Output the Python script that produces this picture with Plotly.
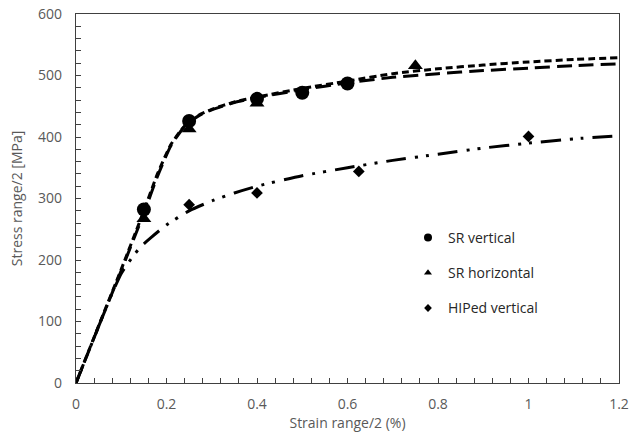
import plotly.graph_objects as go

# ---- measured data points ----
strain_sr_v = [0.15, 0.25, 0.40, 0.50, 0.60]
stress_sr_v = [282, 426, 462, 472, 487]
strain_sr_h = [0.15, 0.25, 0.40, 0.75]
stress_sr_h = [267, 413, 455, 516]
strain_hip = [0.25, 0.40, 0.625, 1.00]
stress_hip = [290, 309, 344, 401]

# ---- fitted curves ----
fit_sr_x = [0, 0.05, 0.10, 0.15, 0.18, 0.21, 0.24, 0.27, 0.30, 0.35, 0.40, 0.50,
            0.60, 0.70, 0.80, 0.90, 1.00, 1.10, 1.20]
fit_sr_short_y = [0, 93, 185, 280, 340, 388, 418, 435, 445, 457, 465, 479,
                  491, 503, 511, 517, 522, 526, 529]
fit_sr_long_y = [0, 92, 183, 276, 336, 386, 417, 434, 444, 456, 464, 477,
                 488, 497, 503, 508, 512, 516, 519]
fit_hip_x = [0, 0.05, 0.08, 0.10, 0.116, 0.13, 0.145, 0.165, 0.20, 0.25, 0.30, 0.35,
             0.40, 0.50, 0.60, 0.70, 0.80, 0.90, 1.00, 1.10, 1.20]
fit_hip_y = [0, 92, 146, 178, 196, 210, 223, 236, 257, 280, 296, 309,
             320, 337, 350, 362, 372, 382, 390, 397, 402]

legend_names = ["SR vertical", "SR horizontal", "HIPed vertical"]

FONT = "Open Sans"
TXT = "#595959"
BLK = "#000000"
L, R, T, B = 76, 12, 14, 51
W, H = 631, 434

fig = go.Figure()

fig.add_trace(go.Scatter(x=fit_sr_x, y=fit_sr_short_y, mode="lines",
                         line=dict(color=BLK, width=3, dash="7px,4px", shape="spline", smoothing=0.6),
                         showlegend=False, hoverinfo="skip"))
fig.add_trace(go.Scatter(x=fit_sr_x, y=fit_sr_long_y, mode="lines",
                         line=dict(color=BLK, width=3, dash="15px,7px", shape="spline", smoothing=0.6),
                         showlegend=False, hoverinfo="skip"))
fig.add_trace(go.Scatter(x=fit_hip_x, y=fit_hip_y, mode="lines",
                         line=dict(color=BLK, width=3, dash="20px,9px,3px,8px,3px,9px",
                                   shape="spline", smoothing=0.6),
                         showlegend=False, hoverinfo="skip"))

fig.add_trace(go.Scatter(x=strain_sr_v, y=stress_sr_v, mode="markers",
                         marker=dict(symbol="circle", size=14, color=BLK),
                         showlegend=False))
fig.add_trace(go.Scatter(x=strain_sr_h, y=stress_sr_h, mode="markers",
                         marker=dict(symbol="triangle-up", size=13, color=BLK),
                         showlegend=False))
fig.add_trace(go.Scatter(x=strain_hip, y=stress_hip, mode="markers",
                         marker=dict(symbol="diamond", size=9, color=BLK),
                         showlegend=False))

# legend entries (smaller symbols as in reference)
for name, sym, sz in zip(legend_names, ["circle", "triangle-up", "diamond"], [8, 7, 6]):
    fig.add_trace(go.Scatter(x=[None], y=[None], mode="markers", name=name,
                             legendgroup=name,
                             marker=dict(symbol=sym, size=sz, color=BLK)))

axis_common = dict(showgrid=False, zeroline=False, showline=True, mirror=True,
                   linecolor="#404040", linewidth=1.3, automargin=False,
                   ticks="inside", ticklen=5, tickcolor="#404040", tickwidth=1,
                   tickfont=dict(family=FONT, size=14, color=TXT))

fig.update_layout(
    width=W, height=H,
    margin=dict(l=L, r=R, t=T, b=B, pad=0),
    paper_bgcolor="white", plot_bgcolor="white",
    font=dict(family=FONT, color=TXT),
    xaxis=dict(range=[0, 1.2], dtick=0.2, tick0=0,
               minor=dict(dtick=0.04, ticks="inside", ticklen=5, tickcolor="#404040"),
               title=dict(text="Strain range/2 (%)", font=dict(family=FONT, size=14, color=TXT),
                          standoff=5),
               ticklabelstandoff=8,
               **axis_common),
    yaxis=dict(range=[0, 600], dtick=100, tick0=0,
               minor=dict(dtick=20, ticks="inside", ticklen=5, tickcolor="#404040"),
               title=dict(text="Stress range/2 [MPa]", font=dict(family=FONT, size=14, color=TXT),
                          standoff=12),
               ticklabelstandoff=10,
               **axis_common),
    legend=dict(x=(408 - L) / (W - L - R), y=1 - (222 - T) / (H - T - B),
                xanchor="left", yanchor="top",
                font=dict(family=FONT, size=14, color="#262626"),
                bgcolor="rgba(0,0,0,0)", borderwidth=0,
                tracegroupgap=14, traceorder="grouped"),
    showlegend=True,
)

fig.write_html("out.html", config={"displayModeBar": False},
               post_script="document.body.style.margin='0';")
